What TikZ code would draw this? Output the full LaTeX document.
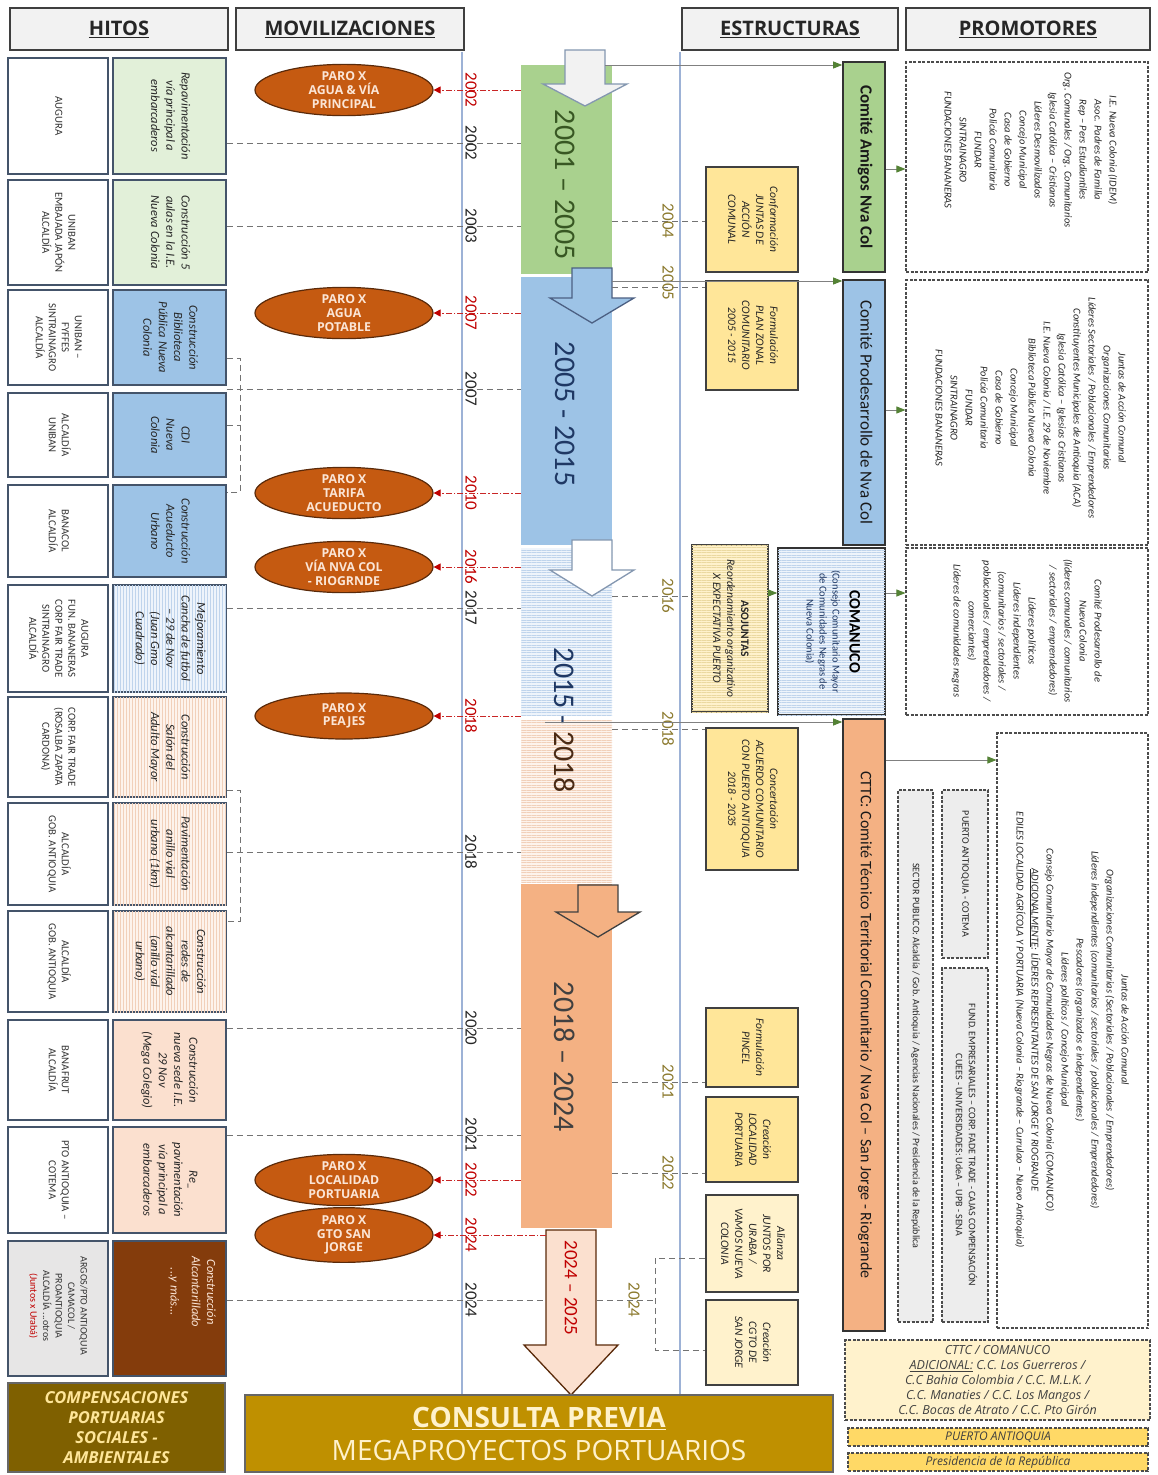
\documentclass[tikz,border=0pt]{standalone}
\usepackage{fontspec}
\setmainfont{Carlito}
\newfontfamily\osans{Open Sans}
\usepackage{graphicx}
\usetikzlibrary{arrows.meta,patterns.meta,shapes.geometric}
\definecolor{hdrfill}{HTML}{F2F2F2}
\definecolor{hdrdraw}{HTML}{3F3F3F}
\definecolor{boxdraw}{HTML}{44546A}
\definecolor{hgreen}{HTML}{E2F0D9}
\definecolor{hblue}{HTML}{9DC3E6}
\definecolor{hlblue}{HTML}{EEF4FB}
\definecolor{hlbluel}{HTML}{BFD4EC}
\definecolor{hpeachl}{HTML}{FDF3EC}
\definecolor{hpeachs}{HTML}{F1D0BA}
\definecolor{hpeach}{HTML}{FBE0CF}
\definecolor{hbrown}{HTML}{843C0C}
\definecolor{hgray}{HTML}{E7E6E6}
\definecolor{gbox}{HTML}{EDEDED}
\definecolor{bgreen}{HTML}{A9D18E}
\definecolor{bblue}{HTML}{9DC3E6}
\definecolor{borange}{HTML}{F4B183}
\definecolor{ellfill}{HTML}{C55A11}
\definecolor{elldraw}{HTML}{5A2A0A}
\definecolor{elltext}{HTML}{FBE5D6}
\definecolor{yel}{HTML}{FFE699}
\definecolor{lyel}{HTML}{FFF2CC}
\definecolor{lyels}{HTML}{EBD9A0}
\definecolor{goldc}{HTML}{FFD966}
\definecolor{consfill}{HTML}{BF9000}
\definecolor{compfill}{HTML}{7F6000}
\definecolor{colOlive}{HTML}{8C7A2E}
\definecolor{yred}{HTML}{C00000}
\definecolor{axisc}{HTML}{9DB2D6}
\definecolor{dgreen}{HTML}{548235}
\definecolor{navyc}{HTML}{1F3864}
\definecolor{pgray}{HTML}{404040}
\definecolor{pergreen}{HTML}{385723}
\definecolor{dbrownt}{HTML}{4A2A14}
\definecolor{arrowd}{HTML}{8497B0}
\newcommand\vtxt[2][c]{\rotatebox{-90}{\begin{tabular}{@{}#1@{}}#2\end{tabular}}}
\newcommand\blkarrow[6]{\draw[fill=#5,draw=#6,line width=1.3pt,line join=miter] ({#1-20},#2) -- ({#1+20},#2) -- ({#1+20},#3) -- ({#1+42},#3) -- (#1,#4) -- ({#1-42},#3) -- ({#1-20},#3) -- cycle;}
\tikzset{
 hdr/.style={draw=hdrdraw, line width=1.3pt, fill=hdrfill, minimum height=42pt, inner sep=0pt, font=\osans\bfseries\fontsize{20}{22}\selectfont, text=black!85},
 hl/.style={draw=boxdraw, line width=1.6pt, fill=white, minimum width=100pt, inner sep=0pt, font=\fontsize{10.8}{13}\selectfont, text=black!80},
 hr/.style={draw=boxdraw, line width=1.6pt, minimum width=113pt, inner sep=0pt, font=\itshape\fontsize{12.5}{15.3}\selectfont, text=black!85},
 vstripe/.style={postaction={pattern={Lines[angle=90,distance=3pt,line width=0.35pt]}, pattern color=#1}},
 hstripe/.style={postaction={pattern={Lines[angle=0,distance=2.5pt,line width=0.4pt]}, pattern color=#1}},
 ell/.style={ellipse, draw=elldraw, line width=1.2pt, fill=ellfill, minimum width=178pt, minimum height=46pt, inner sep=0pt, align=center, text=elltext, font=\osans\bfseries\fontsize{12.3}{13.6}\selectfont},
 bar/.style={draw=none, inner sep=0pt, minimum width=91pt},
 per/.style={rotate=-90, inner sep=0pt, font=\fontsize{30}{30}\selectfont},
 yr/.style={rotate=-90, inner sep=0pt, font=\fontsize{17}{17}\selectfont},
 axis/.style={draw=axisc, line width=1.2pt},
 conn/.style={draw=black!55, line width=0.8pt, dash pattern=on 6pt off 4pt},
 redc/.style={draw=yred!85, line width=0.8pt, dash pattern=on 6pt off 2pt on 1.5pt off 2pt, -{Triangle[length=7pt,width=7pt,color=yred]}},
 garrow/.style={draw=black!50, line width=0.8pt, -{Triangle[length=9pt,width=7pt,color=dgreen]}},
 ybox/.style={draw=black!75, line width=1.6pt, fill=yel, inner sep=0pt, minimum width=92pt, font=\itshape\fontsize{11.5}{14}\selectfont, text=black!85},
 sbox/.style={draw=black!80, line width=1.6pt, inner sep=0pt, minimum width=42pt, text=black!90},
 pbox/.style={draw=black!70, line width=1.1pt, dash pattern=on 3pt off 1.5pt, fill=white, inner sep=0pt},
 ptxt/.style={inner sep=0pt, font=\itshape\fontsize{10.5}{15}\selectfont, text=black!85},
 gtxt/.style={font=\fontsize{10}{13}\selectfont, text=black!85},
}
\begin{document}
\begin{tikzpicture}[x=1pt,y=-1pt]
\useasboundingbox (0,0) rectangle (1158,1475);
\fill[white] (0,0) rectangle (1158,1475);

% ---------- headers
\node[hdr, minimum width=218pt] (hHit) at (119,29) {\underline{HITOS}};
\node[hdr, minimum width=228pt] (hMov) at (350,29) {\underline{MOVILIZACIONES}};
\node[hdr, minimum width=216pt] (hEst) at (790,29) {\underline{ESTRUCTURAS}};
\node[hdr, minimum width=244pt] (hPro) at (1028,29) {\underline{PROMOTORES}};

% ---------- axes
\coordinate (axLt) at (462,52); \coordinate (axLb) at (462,1395);
\coordinate (axRt) at (680,52); \coordinate (axRb) at (680,1395);
\draw[axis] (axLt) -- (axLb);
\draw[axis] (axRt) -- (axRb);

% ---------- period bars
\node[bar, fill=bgreen, minimum height=209pt] (bG) at (566.5,169.5) {};
\node[bar, fill=bblue, minimum height=268pt] (bB) at (566.5,411) {};
\node[bar, fill=hlblue, hstripe=hlbluel, minimum height=167pt] (bS) at (566.5,631.5) {};
\node[bar, fill=hpeachl, hstripe=hpeachs, minimum height=162pt] (bP) at (566.5,801) {};
\node[bar, fill=borange, minimum height=344pt] (bO) at (566.5,1056) {};

% ---------- HITOS
\node[hl, minimum height=116pt] (l1) at (58,116) {\vtxt{AUGURA}};
\node[hr, fill=hgreen, minimum height=116pt] (r1) at (169.5,116) {\vtxt{Repavimentación\\vía principal a\\embarcaderos}};
\node[hl, minimum height=105pt] (l2) at (58,232.5) {\vtxt{UNIBAN\\EMBAJADA JAPÓN\\ALCALDÍA}};
\node[hr, fill=hgreen, minimum height=105pt] (r2) at (169.5,232.5) {\vtxt{Construcción 5\\aulas en la I.E.\\Nueva Colonia}};
\node[hl, minimum height=95pt] (l3) at (58,337.5) {\vtxt{UNIBAN –\\FYFFES\\SINTRAINAGRO\\ALCALDÍA}};
\node[hr, fill=hblue, minimum height=95pt] (r3) at (169.5,337.5) {\vtxt{Construcción\\Biblioteca\\Pública Nueva\\Colonia}};
\node[hl, minimum height=84pt] (l4) at (58,435) {\vtxt{ALCALDÍA\\UNIBAN}};
\node[hr, fill=hblue, minimum height=84pt] (r4) at (169.5,435) {\vtxt{CDI\\Nueva\\Colonia}};
\node[hl, minimum height=92pt] (l5) at (58,531) {\vtxt{BANACOL\\ALCALDÍA}};
\node[hr, fill=hblue, minimum height=92pt] (r5) at (169.5,531) {\vtxt{Construcción\\Acueducto\\Urbano}};
\node[hl, minimum height=107pt] (l6) at (58,638.5) {\vtxt{AUGURA\\FUN. BANANERAS\\CORP FAIR TRADE\\SINTRAINAGRO\\ALCALDÍA}};
\node[hr, fill=hlblue, vstripe=hlbluel, minimum height=107pt] (r6) at (169.5,638.5) {\vtxt{Mejoramiento\\Cancha de futbol\\– 29 de Nov\\(Juan Gmo\\Cuadrado)}};
\node[hl, minimum height=100pt] (l7) at (58,747) {\vtxt{CORP. FAIR TRADE\\(ROSALBA ZAPATA\\CARDONA)}};
\node[hr, fill=hpeachl, vstripe=hpeachs, minimum height=100pt] (r7) at (169.5,747) {\vtxt{Construcción\\Salón del\\Adulto Mayor}};
\node[hl, minimum height=102pt] (l8) at (58,854) {\vtxt{ALCALDÍA\\GOB. ANTIOQUIA}};
\node[hr, fill=hpeachl, vstripe=hpeachs, minimum height=102pt] (r8) at (169.5,854) {\vtxt{Pavimentación\\anillo vial\\urbano (1km)}};
\node[hl, minimum height=101pt] (l9) at (58,961.5) {\vtxt{ALCALDÍA\\GOB. ANTIOQUIA}};
\node[hr, fill=hpeachl, vstripe=hpeachs, minimum height=101pt] (r9) at (169.5,961.5) {\vtxt{Construcción\\redes de\\alcantarillado\\(anillo vial\\urbano)}};
\node[hl, minimum height=100pt] (l10) at (58,1070) {\vtxt{BANAFRUT\\ALCALDÍA}};
\node[hr, fill=hpeach, minimum height=100pt] (r10) at (169.5,1070) {\vtxt{Construcción\\nueva sede I.E.\\29 Nov\\(Mega Colegio)}};
\node[hl, minimum height=106pt] (l11) at (58,1180) {\vtxt{PTO ANTIOQUIA –\\COTEMA}};
\node[hr, fill=hpeach, minimum height=106pt] (r11) at (169.5,1180) {\vtxt{Re\_\\pavimentación\\vía principal a\\embarcaderos}};
\node[hl, fill=hgray, minimum height=135pt] (l12) at (58,1308.5) {};
\node[inner sep=0pt, text=black!80, font=\fontsize{10}{12.5}\selectfont] (l12t) at (58,1306) {\vtxt{ARGOS/PTO ANTIOQUIA\\CAMACOL /\\PROANTIOQUIA\\ALCALDÍA ...otros\\{\color{yred}(Juntos x Urabá)}}};
\node[hr, fill=hbrown, minimum height=135pt] (r12) at (169.5,1308.5) {};
\node[inner sep=0pt, text=elltext, font=\itshape\fontsize{12.5}{15.3}\selectfont] (r12t) at (192,1292) {\vtxt{Construcción\\Alcantarillado\\[6pt]...y más...}};

\node[draw=black!60, line width=1.3pt, fill=compfill, minimum width=217pt, minimum height=89pt, inner sep=0pt, align=center, text=yel, font=\osans\bfseries\itshape\fontsize{16.5}{20}\selectfont] (comp) at (116.5,1427.5) {COMPENSACIONES\\PORTUARIAS\\SOCIALES -\\AMBIENTALES};

% ---------- connectors HITOS -> bars
\draw[conn] (r1.east |- 0,143) -- (bG.west |- 0,143);
\draw[conn] (r2.east |- 0,226) -- (bG.west |- 0,226);
\coordinate (k1a) at (240,358); \coordinate (k1b) at (240,492);
\draw[conn] (r3.east |- k1a) -- (k1a) -- (k1b) -- (r5.east |- k1b);
\draw[conn] (r4.east |- 0,425) -- (k1a |- 0,425);
\draw[conn] (r3.east |- 0,389) -- (bB.west |- 0,389);
\draw[conn] (r6.east |- 0,608) -- (bS.west |- 0,608);
\coordinate (k2a) at (240,790); \coordinate (k2b) at (240,921);
\draw[conn] (r7.east |- k2a) -- (k2a) -- (k2b) -- (r9.east |- k2b);
\draw[conn] (r8.east |- 0,852) -- (bP.west |- 0,852);
\draw[conn] (r10.east |- 0,1028) -- (bO.west |- 0,1028);
\draw[conn] (r11.east |- 0,1135) -- (bO.west |- 0,1135);
\coordinate (k3) at (655,1300);
\draw[conn] (r12.east |- k3) -- (k3);

% ---------- block arrows
\blkarrow{585}{50}{84}{106}{hdrfill}{arrowd}
\blkarrow{592}{268}{298}{323}{bblue}{navyc!80}
\blkarrow{592}{540}{570}{596}{white}{arrowd}
\blkarrow{598}{885}{912}{937}{borange}{pgray}
\draw[fill=hpeach, draw=elldraw, line width=1.3pt, line join=miter] (546,1230) -- (596,1230) -- (596,1345) -- (618,1345) -- (571,1395) -- (524,1345) -- (546,1345) -- cycle;
\coordinate (a25w) at (546,1235);

% ---------- period labels
\node[per, text=pergreen] (tG) at (565,185) {2001 – 2005};
\node[per, text=navyc] (tB) at (565,414) {2005 - 2015};
\node[per] (tS) at (565,720) {\textcolor{navyc}{2015 -} \textcolor{dbrownt}{2018}};
\node[per, text=pgray] (tO) at (565,1057) {2018 – 2024};
\node[rotate=-90, inner sep=0pt, font=\fontsize{19}{19}\selectfont, text=yred] (t25) at (571,1288) {2024 – 2025};

% ---------- movilizaciones
\node[ell] (e1) at (344,90) {PARO X\\AGUA \& VÍA\\PRINCIPAL};
\node[ell] (e2) at (344,313) {PARO X\\AGUA\\POTABLE};
\node[ell] (e3) at (344,493) {PARO X\\TARIFA\\ACUEDUCTO};
\node[ell] (e4) at (344,567) {PARO X\\VÍA NVA COL\\- RIOGRNDE};
\node[ell] (e5) at (344,716) {PARO X\\PEAJES};
\node[ell] (e6) at (344,1180) {PARO X\\LOCALIDAD\\PORTUARIA};
\node[ell] (e7) at (344,1235) {PARO X\\GTO SAN\\JORGE};
\draw[redc] (bG.west |- e1) -- (e1.east);
\draw[redc] (bB.west |- e2) -- (e2.east);
\draw[redc] (bB.west |- e3) -- (e3.east);
\draw[redc] (bS.west |- e4) -- (e4.east);
\draw[redc] (bP.west |- e5) -- (e5.east);
\draw[redc] (bO.west |- e6) -- (e6.east);
\draw[redc] (a25w) -- (e7.east);

% ---------- year labels
\node[yr, text=yred] (q02) at (471,90) {2002};
\node[yr, text=black!85] (k02) at (471,143) {2002};
\node[yr, text=black!85] (k03) at (471,226) {2003};
\node[yr, text=yred] (q07) at (471,313) {2007};
\node[yr, text=black!85] (k07) at (471,389) {2007};
\node[yr, text=yred] (q10) at (471,493) {2010};
\node[yr, text=yred] (q16) at (471,567) {2016};
\node[yr, text=black!85] (k17) at (471,608) {2017};
\node[yr, text=yred] (q18) at (471,716) {2018};
\node[yr, text=black!85] (k18) at (471,852) {2018};
\node[yr, text=black!85] (k20) at (471,1028) {2020};
\node[yr, text=black!85] (k21) at (471,1135) {2021};
\node[yr, text=yred] (q22) at (471,1180) {2022};
\node[yr, text=yred] (q24) at (471,1235) {2024};
\node[yr, text=black!85] (k24) at (471,1300) {2024};

% ---------- estructuras
\node[ybox, minimum height=105pt] (y1) at (752,219.5) {\vtxt{Conformación\\JUNTAS DE\\ACCIÓN\\COMUNAL}};
\node[ybox, minimum height=109pt] (y2) at (752,335.5) {\vtxt{Formulación\\PLAN ZONAL\\COMUNITARIO\\2005 - 2015}};
\node[ybox, fill=lyel, hstripe=lyels, minimum width=76pt, minimum height=167pt] (asj) at (730,628.5) {\vtxt{{\upshape\bfseries ASOJUNTAS}\\Reordenamiento organizativo\\X EXPECTATIVA PUERTO}};
\node[ybox, minimum height=142pt] (y4) at (752,799) {\vtxt{Concertación\\ACUERDO COMUNITARIO\\CON PUERTO ANTIOQUIA\\2018 - 2035}};
\node[ybox, minimum height=79pt] (y5) at (752,1047.5) {\vtxt{Formulación\\PINCEL}};
\node[ybox, minimum height=85pt] (y6) at (752,1139.5) {\vtxt{Creación\\LOCALIDAD\\PORTUARIA}};
\node[ybox, fill=lyel, minimum height=97pt] (y7) at (752,1243.5) {\vtxt{Alianza\\JUNTOS POR\\URABA /\\VAMOS NUEVA\\COLONIA}};
\node[ybox, fill=lyel, minimum height=85pt] (y8) at (752,1342.5) {\vtxt{Creación\\CGTO DE\\SAN JORGE}};

\draw[conn] (bG.east |- 0,221) -- (y1.west |- 0,221);
\draw[conn] (bB.east |- 0,287) -- (y2.west |- 0,287);
\draw[conn] (bS.east |- 0,596) -- (asj.west |- 0,596);
\draw[conn] (bP.east |- 0,729) -- (y4.west |- 0,729);
\draw[conn] (bO.east |- 0,1082) -- (y5.west |- 0,1082);
\draw[conn] (bO.east |- 0,1173) -- (y6.west |- 0,1173);
\coordinate (k4a) at (655,1258); \coordinate (k4b) at (655,1350);
\draw[conn] (y7.west |- k4a) -- (k4a) -- (k4b) -- (y8.west |- k4b);

\node[yr, text=colOlive] (o04) at (668,221) {2004};
\node[yr, text=colOlive] (o05) at (668,283) {2005};
\node[yr, text=colOlive] (o16) at (668,596) {2016};
\node[yr, text=colOlive] (o18) at (668,729) {2018};
\node[yr, text=colOlive] (o21) at (668,1082) {2021};
\node[yr, text=colOlive] (o22) at (668,1173) {2022};
\node[yr, text=colOlive] (o24) at (634,1300) {2024};

\node[sbox, fill=bgreen, minimum height=210pt, font=\bfseries\fontsize{17}{17}\selectfont] (sAm) at (864,167) {\vtxt{Comité Amigos Nva Col}};
\node[sbox, fill=bblue, minimum height=265pt, font=\fontsize{17}{17}\selectfont] (sPr) at (864,412.5) {\vtxt{Comité Prodesarrollo de Nva Col}};
\node[sbox, fill=hlblue, hstripe=hlbluel, minimum width=107pt, minimum height=167pt, font=\fontsize{10.5}{13}\selectfont, text=navyc] (sCo) at (831.5,631.5) {\vtxt{{\bfseries\fontsize{16}{16}\selectfont\color{black}COMANUCO}\\[4pt](Consejo Comunitario Mayor\\de Comunidades Negras de\\Nueva Colonia)}};
\node[sbox, fill=borange, minimum height=612pt, font=\fontsize{16}{16}\selectfont] (sCt) at (864,1025) {\vtxt{CTTC: Comité Técnico Territorial Comunitario / Nva Col – San Jorge - Riogrande}};

% ---------- promotores
\node[pbox, minimum width=242pt, minimum height=210pt] (p1) at (1027,167) {};
\node[pbox, minimum width=242pt, minimum height=265pt] (p2) at (1027,412.5) {};
\node[pbox, minimum width=242pt, minimum height=167pt] (p3) at (1027,631.5) {};
\node[pbox, minimum width=151pt, minimum height=595pt] (p4) at (1072.5,1030.5) {};
\node[ptxt] (p1t) at (1030,150) {\vtxt{I.E. Nueva Colonia (IDEM)\\Asoc. Padres de Familia\\Rep – Pers Estudiantiles\\Org. Comunales / Org. Comunitarios\\Iglesia Católica – Cristianas\\Líderes Desmovilizados\\Concejo Municipal\\Casa de Gobierno\\Policía Comunitaria\\FUNDAR\\SINTRAINAGRO\\FUNDACIONES BANANERAS}};
\node[ptxt] (p2t) at (1030,408) {\vtxt{Juntas de Acción Comunal\\Organizaciones Comunitarias\\Líderes Sectoriales / Poblacionales / Emprendedores\\Constituyentes Municipales de Antioquia (ACA)\\Iglesia Católica – Iglesias Cristianas\\I.E. Nueva Colonia / I.E. 29 de Noviembre\\Biblioteca Pública Nueva Colonia\\[3pt]Concejo Municipal\\Casa de Gobierno\\Policía Comunitaria\\FUNDAR\\SINTRAINAGRO\\FUNDACIONES BANANERAS}};
\node[ptxt] (p3t) at (1027,631) {\vtxt{Comité Prodesarrollo de\\Nueva Colonia\\(líderes comunales / comunitarios\\/ sectoriales / emprendedores)\\[6pt]Líderes políticos\\Líderes independientes\\(comunitarios / sectoriales /\\poblacionales / emprendedores /\\comerciantes)\\Líderes de comunidades negras}};
\node[ptxt] (p4t) at (1072,1030) {\vtxt{Juntas de Acción Comunal\\Organizaciones Comunitarias (Sectoriales / Poblacionales / Emprendedores)\\Líderes independientes (comunitarios / sectoriales / poblacionales / Emprendedores)\\Pescadores (organizados e independientes)\\Líderes políticos / Concejo Municipal\\Consejo Comunitario Mayor de Comunidades Negras de Nueva Colonia (COMANUCO)\\\underline{ADICIONALMENTE}: LÍDERES REPRESENTANTES DE SAN JORGE Y RIOGRANDE\\EDILES LOCALIDAD AGRÍCOLA Y PORTUARIA (Nueva Colonia – Riogrande – Currulao – Nuevo Antioquia)}};

\node[pbox, fill=gbox, minimum width=35pt, minimum height=532pt, gtxt] (gSP) at (915.5,1056) {\vtxt{SECTOR PUBLICO: Alcaldía / Gob. Antioquia / Agencias Nacionales / Presidencia de la República}};
\node[pbox, fill=gbox, minimum width=46pt, minimum height=168pt, gtxt] (gPA) at (965,874) {\vtxt{PUERTO ANTIOQUIA - COTEMA}};
\node[pbox, fill=gbox, minimum width=46pt, minimum height=354pt, gtxt] (gFU) at (965,1145) {\vtxt{FUND. EMPRESARIALES – CORP. FADE TRADE - CAJAS COMPENSACIÓN\\CUEES - UNIVERSIDADES: UdeA – UPB - SENA}};

\node[pbox, fill=lyel, minimum width=305pt, minimum height=80pt, align=center, text=pgray, font=\osans\itshape\fontsize{12.5}{15}\selectfont] (pBA) at (997.5,1380) {CTTC / COMANUCO\\\underline{ADICIONAL:} C.C. Los Guerreros /\\C.C Bahia Colombia / C.C. M.L.K. /\\C.C. Manaties / C.C. Los Mangos /\\C.C. Bocas de Atrato / C.C. Pto Girón};
\node[pbox, fill=goldc, minimum width=300pt, minimum height=18pt, text=pgray, font=\osans\itshape\fontsize{12}{12}\selectfont] (pBB) at (998,1437) {PUERTO ANTIOQUIA};
\node[pbox, fill=goldc, minimum width=300pt, minimum height=18pt, text=pgray, font=\osans\itshape\fontsize{12}{12}\selectfont] (pBC) at (998,1462) {Presidencia de la República};

% ---------- structure arrows
\coordinate (s1) at (605,65);
\draw[garrow] (s1) -- (sAm.west |- s1);
\coordinate (s2) at (612,281);
\draw[garrow] (s2) -- (sPr.west |- s2);
\draw[garrow] (asj.east |- 0,593) -- (sCo.west |- 0,593);
\coordinate (s4) at (545,722);
\draw[garrow] (s4) -- (sCt.west |- s4);
\draw[garrow] (sAm.east |- 0,169) -- (p1.west |- 0,169);
\draw[garrow] (sPr.east |- 0,410) -- (p2.west |- 0,410);
\draw[garrow] (sCo.east |- 0,593) -- (p3.west |- 0,593);
\draw[garrow] (sCt.east |- 0,760) -- (p4.west |- 0,760);

% ---------- consulta previa
\node[draw=black!60, line width=1.3pt, fill=consfill, minimum width=588pt, minimum height=77pt, inner sep=0pt, align=center, text=lyel, font=\osans\fontsize{28}{33}\selectfont] (cons) at (539,1433.5) {\textbf{\underline{CONSULTA PREVIA}}\\MEGAPROYECTOS PORTUARIOS};
\end{tikzpicture}
\end{document}
